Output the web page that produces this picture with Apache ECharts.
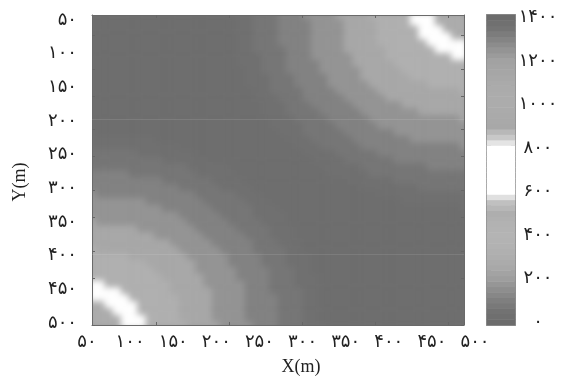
<!DOCTYPE html>
<html lang="fa">
<head>
<meta charset="UTF-8">
<title>Heatmap</title>
<script src="https://cdn.jsdelivr.net/npm/echarts@6/dist/echarts.min.js"></script>
<style>
    html, body { margin: 0; background: #fff; }
    #stage { position: relative; width: 561px; height: 383px; overflow: hidden; }
    #heatClip { position: absolute; left: 92px; top: 15px; width: 372px; height: 310px; overflow: hidden; background: #767676; }
    /* one cell wider than the plot: first and last cells are centred on the plot edges */
    #heat { position: absolute; left: -4px; top: -3px; width: 380px; height: 317px; filter: blur(3px); }
    #container { position: absolute; left: 0; top: 0; width: 561px; height: 383px; filter: blur(0.4px); }
</style>
</head>
<body>
<div id="stage">
    <div id="heatClip"><div id="heat"></div></div>
    <div id="container"></div>
</div>
<script type="text/javascript">
    // axis categories
    const xCats = [50,60,70,80,90,100,110,120,130,140,150,160,170,180,190,200,210,220,230,240,250,260,270,280,290,300,310,320,330,340,350,360,370,380,390,400,410,420,430,440,450,460,470,480,490,500];
    const yCats = [50,60,70,80,90,100,110,120,130,140,150,160,170,180,190,200,210,220,230,240,250,260,270,280,290,300,310,320,330,340,350,360,370,380,390,400,410,420,430,440,450,460,470,480,490,500];

    // values: each character of a row is an index into levelValues
    const levelValues = [15,35,65,110,170,250,330,700,1000];
    const levelRows = [
        '00000000000000000' + '11122233344445555666667778888',
        '000000000000000000' + '1122233334444555566667778888',
        '000000000000000000' + '1122233334444555566666777888',
        '000000000000000000' + '1122233334444555566666777788',
        '000000000000000000' + '1122233334444555566666677777',
        '000000000000000000' + '1122223334444555556666667777',
        '000000000000000000' + '1112223334444455556666666677',
        '000000000000000000' + '1112223333444455555666666666',
        '0000000000000000000' + '112223333444445555566666666',
        '0000000000000000000' + '111222333344445555556666666',
        '0000000000000000000' + '111222333344444555555566666',
        '00000000000000000000' + '11222233334444455555555556',
        '00000000000000000000' + '11122233333444445555555555',
        '000000000000000000000' + '1112223333344444455555555',
        '000000000000000000000' + '1112222333334444444555555',
        '0000000000000000000000' + '111222233333444444444445',
        '0000000000000000000000' + '111122223333344444444444',
        '1' + '0000000000000000000000' + '11122222333333444444444',
        '11111111' + '0000000000000000' + '1112222233333334444444',
        '11111111111' + '00000000000000' + '111222223333333333334',
        '2222221111111' + '0000000000000' + '11112222233333333333',
        '222222222111111' + '000000000000' + '1111222222333333333',
        '22222222222211111' + '00000000000' + '111112222222233333',
        '333332222222211111' + '00000000000' + '11111222222222222',
        '3333333332222221111' + '000000000000' + '111111222222222',
        '33333333333222221111' + '0000000000000' + '1111111222222',
        '433333333333322222111' + '00000000000000' + '11111111111',
        '4444444333333322222111' + '0000000000000000' + '11111111',
        '44444444433333322222111' + '0000000000000000000000' + '1',
        '444444444443333322221111' + '0000000000000000000000',
        '544444444444333332222111' + '0000000000000000000000',
        '5555554444444333332222111' + '000000000000000000000',
        '5555555544444433333222111' + '000000000000000000000',
        '55555555554444433333222111' + '00000000000000000000',
        '65555555555444443333222211' + '00000000000000000000',
        '666665555555444443333222111' + '0000000000000000000',
        '666666655555544443333222111' + '0000000000000000000',
        '666666665555544444333322211' + '0000000000000000000',
        '6666666665555544443333222111' + '000000000000000000',
        '7766666666555544444333222111' + '000000000000000000',
        '7777666666555554444333222211' + '000000000000000000',
        '7777766666655554444333322211' + '000000000000000000',
        '8877776666655554444333322211' + '000000000000000000',
        '8887776666655554444333322211' + '000000000000000000',
        '8888777666655554444333322211' + '000000000000000000',
        '88887776666655554444333222111' + '00000000000000000'
    ];

    // colour bar
    const barValues = [0,25,50,75,100,125,150,175,200,225,250,275,300,325,350,375,400,425,450,475,500,525,550,575,600,625,650,675,700,725,750,775,800,825,850,875,900,925,950,975,1000,1025,1050,1075,1100,1125,1150,1175,1200,1225,1250,1275,1300,1325,1350,1375,1400];
    // grey level every 50 units, 0 to 1400
    const barColors = ['#6c6c6c','#727272','#7f7f7f','#8e8e8e','#9e9e9e','#a8a8a8','#aeaeae','#b2b2b2','#b4b4b4','#b2b2b2','#aeaeae','#c0c0c0','#ffffff','#ffffff','#ffffff','#ffffff','#ffffff','#c8c8c8','#a8a8a8','#aaaaaa','#acacac','#acacac','#aaaaaa','#a6a6a6','#a2a2a2','#949494','#848484','#747474','#6c6c6c'];

    // tick positions, as category indexes
    const plotYTicks = [4,9,13,18,22,27,31,36,40];
    const barTicks = [11,17,23,28,34,40,45,51];

    const digitsFa = '۰۱۲۳۴۵۶۷۸۹';
    function toFa(v) {
        return String(v).replace(/\d/g, d => digitsFa[d]);
    }

    const cells = [];
    levelRows.forEach((row, j) => {
        for (let i = 0; i < row.length; i++) {
            cells.push([i, j, levelValues[+row[i]]]);
        }
    });
    const barCells = barValues.map((v, j) => [0, j, v]);

    const labelStyle = { fontFamily: 'DejaVu Sans', fontSize: 18, color: '#222' };
    const nameStyle = { fontFamily: 'Liberation Serif', fontSize: 18, fill: '#222' };
    const frameLine = { show: true, lineStyle: { color: '#6a6a6a', width: 1 } };
    const barLine = { show: true, lineStyle: { color: '#8e8e8e', width: 2 } };
    const tickEvery5 = i => i % 5 === 0;
    const xTick = { show: true, inside: true, length: 3, interval: i => (i + 1) % 9 === 0, lineStyle: { color: '#666' } };
    const yTick = { show: true, inside: true, length: 3, interval: i => plotYTicks.includes(i + 1), lineStyle: { color: '#666' } };
    const barTick = { show: true, inside: true, length: 4, interval: i => barTicks.includes(i + 1), lineStyle: { color: '#666' } };

    // the field sits in its own clipped layer so it can be softened like the source image
    const heatChart = echarts.init(document.getElementById('heat'), null, { renderer: 'canvas' });
    heatChart.setOption({
        animation: false,
        grid: { left: 0, right: 0, top: 0, bottom: 0 },
        xAxis: { type: 'category', data: xCats, show: false },
        yAxis: { type: 'category', data: yCats, inverse: true, show: false },
        visualMap: { show: false, type: 'continuous', min: 0, max: 1400, inRange: { color: barColors } },
        series: [{ type: 'heatmap', data: cells, silent: true }]
    });

    const myChart = echarts.init(document.getElementById('container'), null, { renderer: 'canvas' });
    myChart.setOption({
        animation: false,
        grid: [
            { left: 92, top: 15, width: 372, height: 310 },
            { left: 487, top: 15, width: 28, height: 310 },
            // tick labels of the plot run a little wider than its frame
            { left: 87, top: 20, width: 388, height: 303 }
        ],
        xAxis: [
            {
                type: 'category', gridIndex: 0, data: xCats, position: 'bottom',
                axisLine: frameLine, axisTick: xTick, axisLabel: { show: false }
            },
            {
                type: 'category', gridIndex: 0, data: xCats, position: 'top',
                axisLine: frameLine, axisTick: xTick, axisLabel: { show: false }
            },
            {
                type: 'category', gridIndex: 1, data: ['c'], position: 'bottom',
                axisLine: barLine, axisTick: { show: false }, axisLabel: { show: false }
            },
            {
                type: 'category', gridIndex: 1, data: ['c'], position: 'top',
                axisLine: barLine, axisTick: { show: false }, axisLabel: { show: false }
            },
            {
                type: 'category', gridIndex: 2, data: xCats, position: 'bottom', boundaryGap: false,
                axisLine: { show: false }, axisTick: { show: false },
                axisLabel: Object.assign({ interval: tickEvery5, formatter: toFa, margin: 10 }, labelStyle)
            }
        ],
        yAxis: [
            {
                type: 'category', gridIndex: 0, data: yCats, inverse: true, position: 'left',
                axisLine: frameLine, axisTick: yTick, axisLabel: { show: false }
            },
            {
                type: 'category', gridIndex: 0, data: yCats, inverse: true, position: 'right',
                axisLine: frameLine, axisTick: yTick, axisLabel: { show: false }
            },
            {
                type: 'category', gridIndex: 1, data: barValues, position: 'right',
                axisLine: barLine,
                axisTick: barTick,
                axisLabel: Object.assign({ interval: i => i % 8 === 0, formatter: toFa, margin: 23, align: 'center' }, labelStyle)
            },
            {
                type: 'category', gridIndex: 1, data: barValues, position: 'left',
                axisLine: barLine, axisTick: barTick, axisLabel: { show: false }
            },
            {
                type: 'category', gridIndex: 2, data: yCats, inverse: true, position: 'left', boundaryGap: false,
                axisLine: { show: false }, axisTick: { show: false },
                axisLabel: Object.assign({ interval: tickEvery5, formatter: toFa, margin: 10 }, labelStyle)
            }
        ],
        visualMap: {
            show: false, type: 'continuous', min: 0, max: 1400, seriesIndex: 0,
            inRange: { color: barColors }
        },
        graphic: [
            { type: 'text', x: 301, y: 367, style: { text: 'X(m)', align: 'center', verticalAlign: 'middle', ...nameStyle } },
            { type: 'text', x: 20, y: 182, rotation: Math.PI / 2, style: { text: 'Y(m)', align: 'center', verticalAlign: 'middle', ...nameStyle } }
        ],
        series: [
            { type: 'heatmap', xAxisIndex: 2, yAxisIndex: 2, data: barCells, silent: true, z: 1 },
            {
                type: 'line', xAxisIndex: 0, yAxisIndex: 0, data: [], silent: true,
                markLine: {
                    silent: true, symbol: 'none', label: { show: false },
                    lineStyle: { type: 'solid', width: 1, color: 'rgba(255,255,255,0.1)' },
                    data: [{ yAxis: 15 }, { yAxis: 35 }]
                }
            }
        ]
    });
</script>
</body>
</html>
